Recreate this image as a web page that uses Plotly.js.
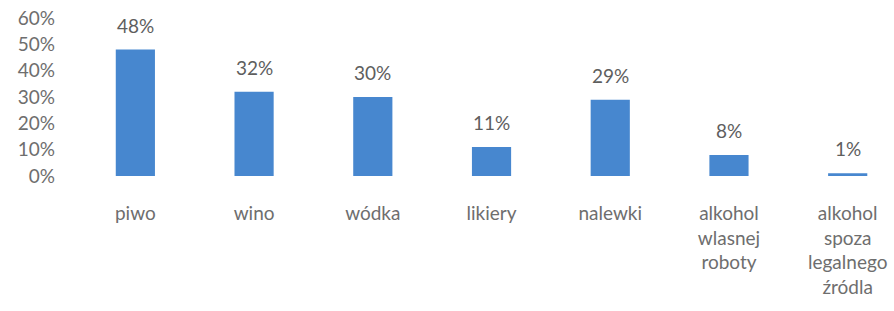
<!DOCTYPE html>
<html>
<head>
<meta charset="utf-8">
<script src="https://cdn.plot.ly/plotly-3.0.1.min.js"></script>
<style>html,body{margin:0;padding:0;background:#fff;}#chart{width:894px;height:311px;}</style>
</head>
<body>
<div id="chart"></div>
<script>
var categories = ["piwo", "wino", "wódka", "likiery", "nalewki", "alkohol<br>wlasnej<br>roboty", "alkohol<br>spoza<br>legalnego<br>źródla"];
var values = [48, 32, 30, 11, 29, 8, 1];
var valueLabels = ["48%", "32%", "30%", "11%", "29%", "8%", "1%"];
var yTickVals = [0, 10, 20, 30, 40, 50, 60];
var yTickText = ["0%", "10%", "20%", "30%", "40%", "50%", "60%"];

var idx = categories.map(function(c, i){ return i; });

var trace = {
  type: "bar",
  x: idx,
  y: values,
  marker: {color: "#4787cf"},
  width: 0.33,
  hoverinfo: "none"
};

var annotations = values.map(function(v, i){
  return {
    x: i, y: v, xref: "x", yref: "y",
    text: valueLabels[i],
    showarrow: false,
    yanchor: "bottom",
    yshift: 11,
    font: {family: "Lato, 'Open Sans', sans-serif", size: 19, color: "#5e5e5e"}
  };
});

var layout = {
  width: 894, height: 311,
  margin: {l: 76, r: 0, t: 18, b: 135},
  paper_bgcolor: "#ffffff",
  plot_bgcolor: "#ffffff",
  showlegend: false,
  xaxis: {
    range: [-0.5, 6.39],
    tickvals: idx,
    ticktext: categories,
    showgrid: false, zeroline: false, showline: false,
    ticks: "", ticklabelstandoff: 24,
    tickfont: {family: "Lato, 'Open Sans', sans-serif", size: 19, color: "#6e6e6e"}
  },
  yaxis: {
    range: [0, 60],
    tickvals: yTickVals,
    ticktext: yTickText,
    showgrid: false, zeroline: false, showline: false,
    ticks: "", ticklabelstandoff: 20,
    tickfont: {family: "Lato, 'Open Sans', sans-serif", size: 19, color: "#6e6e6e"}
  },
  annotations: annotations
};

Plotly.newPlot("chart", [trace], layout, {displayModeBar: false, staticPlot: true});
</script>
</body>
</html>
